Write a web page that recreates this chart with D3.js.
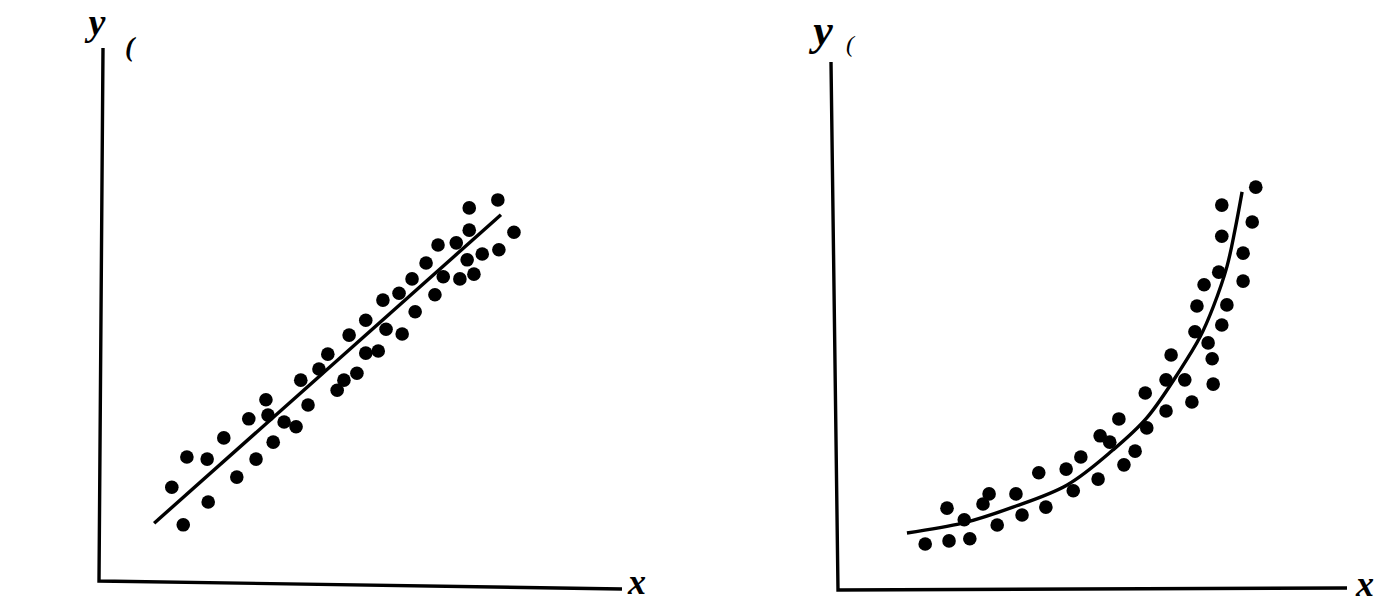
<!DOCTYPE html>
<html><head><meta charset="utf-8">
<script src="https://cdn.jsdelivr.net/npm/d3@7"></script>
<style>html,body{margin:0;padding:0;background:#fff;}svg{display:block;}</style>
</head><body>
<script>
// Left panel: linear relationship
const linX = [76.7,71.2,71.2,79.8,65.2,68.7,70.8,73.7,76.9,62.9,66.2,69.4,72.1,60.2,57.7,64.6,54.6,60.8,51.3,55.2,58.3,48.1,44.0,51.3,53.7,42.3,38.8,49.6,47.1,45.8,40.2,32.1,28.8,32.5,35.6,37.9,24.0,33.5,16.9,20.8,30.2,26.5,14.0,21.0,16.2];
const linY = [71.9,70.4,66.2,65.8,63.4,63.8,60.6,61.7,62.5,60.0,57.4,57.0,57.9,57.0,54.3,54.0,53.0,50.8,49.2,47.5,46.6,46.4,42.8,43.0,43.4,40.0,37.9,39.2,37.9,36.0,33.2,34.2,30.6,31.3,30.0,29.1,27.0,26.2,23.4,23.0,23.0,19.6,17.7,14.9,10.6];
const linFitX = [10.6, 77.3];
const linFitY = [10.9, 69.1];

// Right panel: exponential-like relationship
const expX = [82.4,75.7,81.7,75.7,79.9,75.1,79.9,72.2,70.8,76.7,75.7,70.4,73.0,73.8,65.7,74.0,64.7,68.4,69.8,60.6,64.7,55.4,60.9,51.7,53.6,58.6,56.4,47.9,45.0,39.6,51.3,46.4,35.1,29.8,28.6,41.0,21.5,36.3,24.9,31.4,17.2,21.9,26.0];
const expY = [76.3,72.9,69.7,67.0,63.8,60.2,58.5,57.8,53.8,54.0,50.2,48.9,46.8,43.8,44.5,39.0,39.8,39.8,35.6,37.3,33.9,32.4,30.7,29.2,28.0,26.3,23.7,25.2,22.9,22.2,21.0,18.8,18.2,18.2,16.3,15.7,15.5,14.2,13.3,12.3,8.7,9.3,9.7];
const expFitX = [13.6,24.7,34.5,45.2,54.2,60.9,67.5,71.4,74.0,76.7,78.3,79.7];
const expFitY = [10.8,12.7,15.7,19.9,26.5,32.6,41.7,47.9,53.6,61.2,68.2,75.4];

const axisLabels = {y: "y", x: "x"};

const W = 1384, H = 608;
const svg = d3.select("body").append("svg").attr("width", W).attr("height", H);

function panel(cfg) {
  const g = svg.append("g");
  const x = d3.scaleLinear().domain([0,100]).range(cfg.xr);
  const y = d3.scaleLinear().domain([0,100]).range(cfg.yr);
  // axes (L-shape)
  g.append("path")
    .attr("d", d3.line()([[x(0)+cfg.tiltTop, cfg.axisTop],[x(0), y(0)],[cfg.axisRight, y(0)+cfg.tiltRight]]))
    .attr("fill","none").attr("stroke","#000").attr("stroke-width",3.4).attr("stroke-linejoin","miter");
  // fit line
  const pts = cfg.fx.map((v,i)=>[x(v), y(cfg.fy[i])]);
  g.append("path")
    .attr("d", d3.line().curve(d3.curveCatmullRom.alpha(0.5))(pts))
    .attr("fill","none").attr("stroke","#000").attr("stroke-width",3.4).attr("stroke-linecap","butt");
  // dots
  g.selectAll("circle.d").data(cfg.px).join("circle")
    .attr("cx", d=>x(d)).attr("cy", (d,i)=>y(cfg.py[i])).attr("r", 6.8).attr("fill","#000");
  // labels
  g.append("text").text(axisLabels.y)
    .attr("x", cfg.yLab[0]).attr("y", cfg.yLab[1])
    .attr("text-anchor","middle")
    .style("font-family","'Liberation Serif', 'DejaVu Serif', serif")
    .style("font-style","italic").style("font-weight","bold").style("font-size", cfg.yLab[2]+"px");
  g.append("text").text(axisLabels.x)
    .attr("x", cfg.xLab[0]).attr("y", cfg.xLab[1])
    .attr("text-anchor","middle")
    .style("font-family","'Liberation Serif', 'DejaVu Serif', serif")
    .style("font-style","italic").style("font-weight","bold").style("font-size", cfg.xLab[2]+"px");
  g.append("text").text("(")
    .attr("x", cfg.mark[0]).attr("y", cfg.mark[1])
    .style("font-family","'Liberation Serif', serif").style("font-style","italic")
    .style("font-weight", cfg.mark[3]).style("font-size", cfg.mark[2]+"px");
}

panel({xr:[99,619], yr:[581,51], axisTop:48, axisRight:622, tiltTop:4, tiltRight:8,
  px:linX, py:linY, fx:linFitX, fy:linFitY,
  yLab:[97,35,38], xLab:[637,594,36], mark:[125,56,28,"bold"]});
panel({xr:[838,1345], yr:[590,62], axisTop:62, axisRight:1347, tiltTop:-7, tiltRight:-2,
  px:expX, py:expY, fx:expFitX, fy:expFitY,
  yLab:[823,45,44], xLab:[1365,596,36], mark:[846,52,24,"normal"]});
</script>
</body></html>
